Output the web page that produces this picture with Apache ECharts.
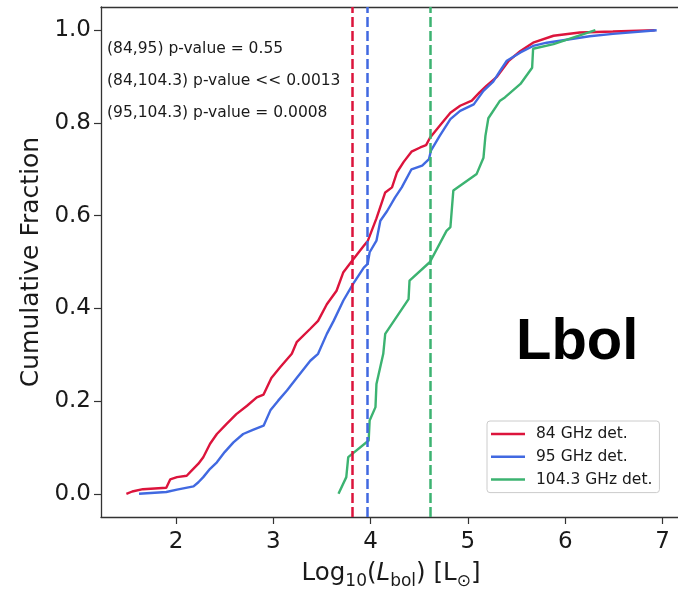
<!DOCTYPE html>
<html>
<head>
<meta charset="utf-8">
<script src="https://cdn.jsdelivr.net/npm/echarts@6/dist/echarts.min.js"></script>
<style>
html,body{margin:0;padding:0;background:#fff;}
#c{width:678px;height:589px;}
</style>
</head>
<body>
<div id="c"></div>
<script>
// ---- data ----
const seriesNames = ['84 GHz det.', '95 GHz det.', '104.3 GHz det.'];

const x84 = [1.49,1.55,1.66,1.90,1.94,2.01,2.11,2.16,2.23,2.28,2.35,2.42,2.52,2.62,2.73,2.83,2.90,2.98,3.07,3.19,3.24,3.38,3.46,3.55,3.65,3.72,3.80,3.93,3.97,4.06,4.15,4.22,4.27,4.34,4.42,4.51,4.57,4.61,4.71,4.82,4.92,5.04,5.12,5.19,5.30,5.42,5.54,5.67,5.88,6.15,6.49,6.92];
const y84 = [0.0,0.005,0.010,0.013,0.031,0.036,0.039,0.050,0.065,0.079,0.108,0.129,0.151,0.172,0.190,0.208,0.214,0.250,0.273,0.302,0.327,0.356,0.373,0.409,0.438,0.478,0.500,0.535,0.545,0.594,0.650,0.661,0.693,0.716,0.738,0.747,0.752,0.768,0.794,0.822,0.837,0.848,0.866,0.880,0.900,0.934,0.955,0.973,0.988,0.995,0.997,1.0];

const x95 = [1.62,1.90,2.01,2.18,2.23,2.28,2.35,2.42,2.50,2.59,2.69,2.79,2.90,2.97,3.05,3.14,3.24,3.38,3.46,3.55,3.62,3.72,3.82,3.93,3.97,3.99,4.06,4.10,4.17,4.25,4.32,4.42,4.53,4.60,4.62,4.71,4.82,4.92,5.06,5.16,5.26,5.33,5.40,5.54,5.67,5.81,6.25,6.49,6.94];
const y95 = [0.0,0.004,0.009,0.016,0.025,0.036,0.054,0.068,0.090,0.111,0.129,0.138,0.147,0.180,0.201,0.223,0.250,0.287,0.302,0.345,0.373,0.417,0.453,0.488,0.496,0.521,0.546,0.589,0.610,0.639,0.661,0.700,0.708,0.722,0.740,0.772,0.808,0.826,0.840,0.869,0.889,0.912,0.934,0.952,0.966,0.973,0.987,0.992,1.0];

const x104 = [3.67,3.75,3.77,3.98,3.99,4.05,4.06,4.13,4.15,4.39,4.40,4.61,4.78,4.82,4.85,5.09,5.16,5.18,5.21,5.33,5.38,5.54,5.66,5.67,5.88,6.31];
const y104 = [0.0,0.036,0.079,0.115,0.158,0.187,0.237,0.302,0.345,0.420,0.460,0.500,0.567,0.575,0.654,0.690,0.725,0.772,0.810,0.848,0.855,0.884,0.919,0.960,0.970,1.0];

const medians = [3.806, 3.966, 4.61];

const xTicks = [2, 3, 4, 5, 6, 7];
const yTicks = [0.0, 0.2, 0.4, 0.6, 0.8, 1.0];

const pTexts = ['(84,95) p-value = 0.55', '(84,104.3) p-value << 0.0013', '(95,104.3) p-value = 0.0008'];
const panelLabel = 'Lbol';

// ---- styling ----
const colors = ['#DC143C', '#4169E1', '#3CB371'];
const FONT = '"DejaVu Sans", sans-serif';
const TXT = '#1a1a1a';
const SPINE = '#333';

function pairs(xs, ys) { return xs.map((x, i) => [x, ys[i]]); }
const xsAll = [x84, x95, x104];
const ysAll = [y84, y95, y104];

const series = seriesNames.map((name, i) => ({
  name: name,
  type: 'line',
  xAxisIndex: 0, yAxisIndex: 0,
  data: pairs(xsAll[i], ysAll[i]),
  showSymbol: false,
  symbol: 'none',
  lineStyle: { color: colors[i], width: 2.4 },
  itemStyle: { color: colors[i] },
  z: 2 + i,
  markLine: {
    silent: true,
    symbol: 'none',
    label: { show: false },
    lineStyle: { color: colors[i], width: 2.5, type: [10, 4] },
    data: [{ xAxis: medians[i] }],
    z: 5
  }
}));

const chart = echarts.init(document.getElementById('c'), null, { renderer: 'canvas' });
chart.setOption({
  animation: false,
  backgroundColor: '#fff',
  grid: { left: 101, top: 7, width: 580, height: 510, show: false, outerBoundsMode: 'none', containLabel: false },
  xAxis: [{
    type: 'value', min: 1.229, max: 7.19, position: 'bottom',
    splitLine: { show: false },
    axisLine: { show: true, onZero: false, lineStyle: { color: SPINE, width: 1.3 } },
    axisTick: { show: true, length: 7, lineStyle: { color: SPINE, width: 1.2 }, customValues: xTicks },
    axisLabel: { customValues: xTicks, margin: 14, fontSize: 23, fontFamily: FONT, color: TXT, formatter: v => String(v) },
    name: '{n|Log}{s|10}{n|(}{i|L}{s|bol}{n|) [L}{s|⊙}{n|]}',
    nameLocation: 'middle', nameGap: 41,
    nameTextStyle: {
      rich: {
        n: { fontSize: 24.5, fontFamily: FONT, color: TXT, lineHeight: 32, verticalAlign: 'middle' },
        i: { fontSize: 24.5, fontFamily: FONT, fontStyle: 'italic', color: TXT, lineHeight: 32, verticalAlign: 'middle' },
        s: { fontSize: 17, fontFamily: FONT, color: TXT, verticalAlign: 'bottom', lineHeight: 32 }
      }
    }
  }, {
    type: 'value', min: 1.229, max: 7.19, position: 'top',
    splitLine: { show: false },
    axisLine: { show: true, onZero: false, lineStyle: { color: SPINE, width: 1.3 } },
    axisTick: { show: false },
    axisLabel: { show: false }
  }],
  yAxis: {
    type: 'value', min: -0.05, max: 1.05,
    splitLine: { show: false },
    axisLine: { show: true, onZero: false, lineStyle: { color: SPINE, width: 1.3 } },
    axisTick: { show: true, length: 7, lineStyle: { color: SPINE, width: 1.2 }, customValues: yTicks },
    axisLabel: { customValues: yTicks, margin: 10, fontSize: 23, fontFamily: FONT, color: TXT, formatter: v => v.toFixed(1) },
    name: 'Cumulative Fraction', nameLocation: 'middle', nameGap: 56,
    nameTextStyle: { fontSize: 25, fontFamily: FONT, color: TXT }
  },
  legend: {
    data: seriesNames,
    orient: 'vertical', left: 487, top: 421,
    padding: [5, 7, 5, 4], itemGap: 6.8,
    itemWidth: 34, itemHeight: 2.5, icon: 'rect',
    borderColor: '#cccccc', borderWidth: 1, borderRadius: 3,
    backgroundColor: 'rgba(255,255,255,0.85)',
    textStyle: { fontSize: 15.5, fontFamily: FONT, color: TXT, padding: [0, 0, 0, 6] }
  },
  graphic: [
    ...pTexts.map((t, i) => ({
      type: 'text', x: 107, y: [49, 81, 112.5][i], z: 10,
      style: { text: t, font: '15.5px ' + FONT, fill: TXT, verticalAlign: 'middle' }
    })),
    { type: 'text', x: 516, y: 343, z: 10,
      style: { text: panelLabel, font: 'bold 58px "Liberation Sans", Arial, sans-serif', fill: '#000', verticalAlign: 'middle' } }
  ],
  series: series
});
</script>
</body>
</html>
